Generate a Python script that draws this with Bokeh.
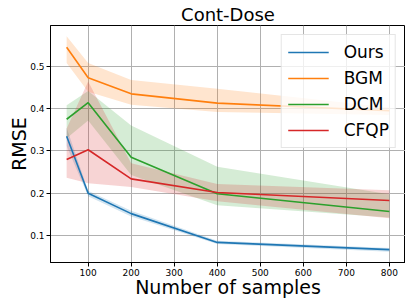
from bokeh.plotting import figure
from bokeh.models import Range1d, Legend, LegendItem, FixedTicker
from bokeh.embed import file_html
from bokeh.resources import INLINE

# ---- data ----
samples = [50, 100, 200, 400, 800]

ours = [0.335, 0.200, 0.152, 0.084, 0.067]
ours_lo = [0.312, 0.193, 0.145, 0.080, 0.062]
ours_hi = [0.355, 0.206, 0.159, 0.088, 0.071]

bgm = [0.545, 0.473, 0.435, 0.413, 0.395]
bgm_lo = [0.508, 0.440, 0.409, 0.392, 0.385]
bgm_hi = [0.571, 0.508, 0.468, 0.447, 0.403]

dcm = [0.375, 0.414, 0.285, 0.199, 0.157]
dcm_lo = [0.330, 0.372, 0.243, 0.172, 0.143]
dcm_hi = [0.408, 0.442, 0.360, 0.263, 0.198]

cfqp = [0.280, 0.303, 0.234, 0.202, 0.183]
cfqp_lo = [0.237, 0.224, 0.215, 0.181, 0.141]
cfqp_hi = [0.353, 0.464, 0.271, 0.222, 0.207]

series_names = ["Ours", "BGM", "DCM", "CFQP"]
x_ticks = [100, 200, 300, 400, 500, 600, 700, 800]
y_ticks = [0.1, 0.2, 0.3, 0.4, 0.5]

colors = ["#1f77b4", "#ff7f0e", "#2ca02c", "#d62728"]
means = [ours, bgm, dcm, cfqp]
lows = [ours_lo, bgm_lo, dcm_lo, cfqp_lo]
highs = [ours_hi, bgm_hi, dcm_hi, cfqp_hi]

FONT = "DejaVu Sans"

p = figure(frame_width=355, frame_height=237,
           x_range=Range1d(12.5, 837.5), y_range=Range1d(0.0365, 0.5965),
           output_backend="svg", toolbar_location=None,
           min_border_left=50, min_border_right=0, min_border_top=17,
           min_border_bottom=34, title="Cont-Dose")

p.title.text_font = FONT
p.title.text_font_size = "18px"
p.title.text_font_style = "normal"
p.title.text_color = "black"
p.title.align = "center"
p.title.standoff = 2

p.outline_line_color = "black"
p.outline_line_width = 1
p.background_fill_color = "white"
p.border_fill_color = "white"

p.xgrid.ticker = FixedTicker(ticks=x_ticks)
p.ygrid.ticker = FixedTicker(ticks=y_ticks)
p.grid.grid_line_color = "#b0b0b0"
p.grid.grid_line_width = 1
p.grid.grid_line_alpha = 1.0

p.xaxis.ticker = FixedTicker(ticks=x_ticks)
p.yaxis.ticker = FixedTicker(ticks=y_ticks)
for ax in (p.xaxis[0], p.yaxis[0]):
    ax.axis_line_color = "black"
    ax.major_tick_line_color = "black"
    ax.major_tick_out = 4
    ax.major_tick_in = 0
    ax.minor_tick_line_color = None
    ax.major_label_text_font = FONT
    ax.major_label_text_font_size = "9px"
    ax.major_label_text_color = "black"
    ax.major_label_standoff = 2
    ax.axis_label_text_font = FONT
    ax.axis_label_text_font_size = "19px"
    ax.axis_label_text_font_style = "normal"
    ax.axis_label_text_color = "black"
    ax.axis_label_standoff = -3

p.xaxis.axis_label = "Number of samples"
p.yaxis.axis_label = "RMSE"

for c, lo, hi in zip(colors, lows, highs):
    p.varea(x=samples, y1=lo, y2=hi, fill_color=c, fill_alpha=0.2)

items = []
for name, c, m in zip(series_names, colors, means):
    r = p.line(samples, m, line_color=c, line_width=1.6)
    items.append(LegendItem(label=name, renderers=[r]))

legend = Legend(items=items, location="top_right")
legend.margin = 9
legend.padding = 6
legend.spacing = 4
legend.glyph_width = 41
legend.glyph_height = 22
legend.label_height = 22
legend.label_standoff = 15
legend.label_text_font = FONT
legend.label_text_font_size = "17px"
legend.label_text_color = "black"
legend.border_line_color = "#cccccc"
legend.border_line_width = 1
legend.background_fill_color = "white"
legend.background_fill_alpha = 0.8
p.add_layout(legend)

open("out.html", "w").write(file_html(p, INLINE))
